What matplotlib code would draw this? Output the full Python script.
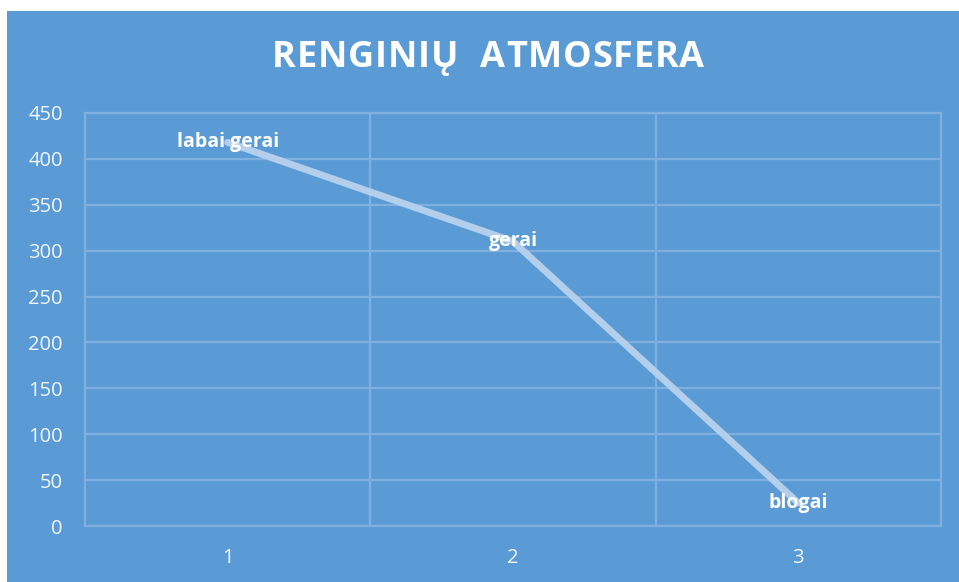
import matplotlib
matplotlib.use("Agg")
import matplotlib.pyplot as plt
from matplotlib.patches import Rectangle

categories = [1, 2, 3]
values = [418, 310, 25]
point_labels = ["labai gerai", "gerai", "blogai"]
yticks = [0, 50, 100, 150, 200, 250, 300, 350, 400, 450]
title = "RENGINIŲ  ATMOSFERA"

W, H = 959, 582
bg = "#5B9BD5"
grid_c = "#80B0E0"
txt_c = "#F2F6FB"

fig = plt.figure(figsize=(W / 100, H / 100), dpi=100)
fig.patch.set_facecolor("white")
fig.patches.append(Rectangle((7 / W, 0), (W - 7) / W, (H - 11) / H,
                             transform=fig.transFigure, facecolor=bg,
                             edgecolor="none", zorder=-10))

ax = fig.add_axes([85 / W, (H - 526) / H, 856 / W, 413 / H])
ax.set_zorder(1)
ax.patch.set_alpha(0)
ax.set_xlim(0.5, 3.5)
ax.set_ylim(0, 450)
ax.set_yticks(yticks)
ax.set_xticks(categories)
ax.set_xticks([1.5, 2.5], minor=True)
ax.tick_params(axis="both", which="both", length=0, colors=txt_c, labelsize=14.5)
ax.tick_params(axis="y", pad=16)
ax.tick_params(axis="x", pad=16)
for lab in ax.get_xticklabels() + ax.get_yticklabels():
    lab.set_fontfamily("Open Sans")
    lab.set_color(txt_c)
ax.grid(axis="y", which="major", color=grid_c, linewidth=1.6)
ax.grid(axis="x", which="minor", color=grid_c, linewidth=1.6)
ax.grid(axis="x", which="major", visible=False)
for s in ax.spines.values():
    s.set_color(grid_c)
    s.set_linewidth(1.6)

ax.plot(categories, values, color="#B3CFEC", linewidth=5, solid_capstyle="round", zorder=3)
for x, v, t in zip(categories, values, point_labels):
    ax.text(x, v, t, ha="center", va="center", color="white", fontsize=14,
            fontweight="bold", fontfamily="Open Sans", zorder=4)

# Title with letter spacing
renderer = fig.canvas.get_renderer()
tkw = dict(color="white", fontsize=26, fontweight="bold", fontfamily="Open Sans",
           va="center", ha="left")
spacing = 0.8
widths = []
for ch in title:
    t = fig.text(0, 0, ch if ch != " " else "n", **tkw)
    bb = t.get_window_extent(renderer)
    widths.append(bb.width * (0.42 if ch == " " else 1.0))
    t.remove()
total = sum(widths) + spacing * (len(title) - 1)
x = 488 - total / 2
yc = 1 - 58 / H
for ch, w in zip(title, widths):
    if ch != " ":
        fig.text(x / W, yc, ch, **tkw)
    x += w + spacing

fig.savefig("out.png", dpi=100, facecolor=fig.get_facecolor())
